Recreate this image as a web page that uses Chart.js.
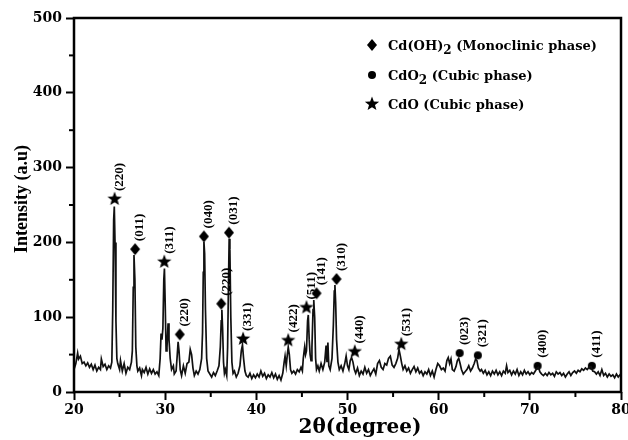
<!DOCTYPE html>
<html>
<head>
<meta charset="utf-8">
<script src="https://cdn.jsdelivr.net/npm/chart.js@4/dist/chart.umd.min.js"></script>
<style>
  body { margin: 0; background: #fff; }
</style>
</head>
<body>
<canvas id="xrdChart" width="628" height="440"></canvas>
<script>

// XRD scan: [2theta, intensity]
const scan = [
  [20.0,30],[20.2,38],[20.4,52],[20.5,44],[20.7,48],[20.9,38],[21.1,40],[21.3,35],[21.5,39],[21.7,33],
  [21.9,37],[22.1,30],[22.3,36],[22.5,28],[22.7,33],[22.9,30],[23.0,44],[23.2,34],[23.4,37],[23.6,30],
  [23.8,35],[24.0,32],[24.15,40],[24.25,110],[24.35,230],[24.42,248],[24.5,200],[24.6,95],[24.7,45],[24.8,38],
  [25.0,30],[25.1,42],[25.3,28],[25.5,38],[25.7,25],[25.9,33],[26.1,30],[26.3,40],[26.4,55],[26.5,140],
  [26.58,183],[26.68,150],[26.78,60],[26.9,35],[27.0,28],[27.2,32],[27.4,22],[27.5,30],[27.7,26],[27.9,33],
  [28.1,24],[28.3,31],[28.5,25],[28.7,30],[28.9,24],[29.1,27],[29.3,22],[29.45,45],[29.55,78],[29.65,70],
  [29.75,85],[29.85,150],[29.92,165],[30.0,120],[30.1,55],[30.2,60],[30.32,92],[30.42,70],[30.55,45],[30.7,30],
  [30.9,35],[31.0,24],[31.2,28],[31.3,45],[31.42,67],[31.52,55],[31.65,30],[31.8,22],[32.0,35],[32.2,25],
  [32.4,38],[32.6,40],[32.75,57],[32.9,50],[33.05,32],[33.2,22],[33.4,28],[33.6,24],[33.8,30],[34.0,45],
  [34.1,80],[34.18,160],[34.25,201],[34.33,185],[34.42,110],[34.55,45],[34.7,28],[34.9,24],[35.1,20],[35.3,26],
  [35.5,22],[35.7,28],[35.9,35],[36.05,60],[36.15,95],[36.22,110],[36.3,85],[36.4,40],[36.5,25],[36.6,30],
  [36.75,22],[36.85,60],[36.95,150],[37.02,205],[37.1,190],[37.2,100],[37.32,40],[37.45,25],[37.6,28],[37.8,20],
  [38.0,25],[38.2,35],[38.35,55],[38.48,63],[38.6,45],[38.75,28],[38.9,22],[39.1,20],[39.3,25],[39.5,18],
  [39.7,23],[39.9,19],[40.1,24],[40.3,20],[40.5,28],[40.7,21],[40.9,25],[41.1,18],[41.3,23],[41.5,20],
  [41.7,26],[41.9,19],[42.1,24],[42.3,17],[42.5,22],[42.7,16],[42.9,25],[43.05,40],[43.15,48],[43.28,35],
  [43.4,50],[43.5,60],[43.62,50],[43.75,30],[43.9,25],[44.1,28],[44.3,24],[44.5,30],[44.7,27],[44.9,33],
  [45.05,28],[45.15,45],[45.3,60],[45.4,50],[45.5,55],[45.62,95],[45.7,103],[45.8,70],[45.9,50],[46.0,42],
  [46.1,60],[46.22,110],[46.3,123],[46.4,100],[46.5,45],[46.6,30],[46.75,35],[46.9,28],[47.1,38],[47.3,30],
  [47.5,40],[47.65,62],[47.75,40],[47.85,66],[47.95,35],[48.1,30],[48.3,45],[48.45,90],[48.55,135],[48.62,143],
  [48.7,120],[48.8,70],[48.95,40],[49.1,30],[49.3,35],[49.5,28],[49.7,38],[49.85,48],[50.0,35],[50.15,30],
  [50.3,42],[50.45,46],[50.6,40],[50.75,30],[50.9,25],[51.1,32],[51.3,22],[51.5,28],[51.7,24],[51.9,33],
  [52.1,25],[52.3,30],[52.5,22],[52.7,27],[52.9,31],[53.1,24],[53.3,38],[53.5,42],[53.7,33],[53.9,30],
  [54.1,38],[54.3,36],[54.5,45],[54.7,48],[54.9,36],[55.1,33],[55.3,38],[55.5,45],[55.65,57],[55.8,48],
  [55.95,38],[56.1,30],[56.3,35],[56.5,28],[56.7,32],[56.9,25],[57.1,30],[57.3,34],[57.5,27],[57.7,32],
  [57.9,25],[58.1,28],[58.3,22],[58.5,27],[58.7,24],[58.9,30],[59.1,22],[59.3,28],[59.5,20],[59.7,30],
  [59.9,38],[60.1,35],[60.3,30],[60.5,32],[60.7,28],[60.9,42],[61.05,46],[61.2,38],[61.35,44],[61.5,30],
  [61.7,28],[61.9,34],[62.05,42],[62.2,45],[62.35,38],[62.5,30],[62.7,24],[62.9,27],[63.1,30],[63.3,35],
  [63.5,28],[63.7,32],[63.9,38],[64.05,44],[64.2,42],[64.35,32],[64.55,28],[64.7,30],[64.9,25],[65.1,29],
  [65.3,23],[65.5,27],[65.7,22],[65.9,28],[66.1,24],[66.3,29],[66.5,23],[66.7,27],[66.9,22],[67.1,28],
  [67.3,25],[67.45,35],[67.6,26],[67.8,29],[68.0,23],[68.2,28],[68.4,24],[68.6,30],[68.8,22],[69.0,27],
  [69.2,23],[69.4,29],[69.6,24],[69.8,27],[70.0,23],[70.2,26],[70.4,24],[70.6,28],[70.8,32],[70.95,33],
  [71.1,27],[71.3,24],[71.5,22],[71.7,25],[71.9,22],[72.1,26],[72.3,23],[72.5,25],[72.7,21],[72.9,27],
  [73.1,24],[73.3,26],[73.5,22],[73.7,25],[73.9,20],[74.1,24],[74.3,27],[74.5,22],[74.7,26],[74.9,28],
  [75.1,25],[75.3,29],[75.5,27],[75.7,31],[75.9,29],[76.1,32],[76.3,30],[76.5,33],[76.7,34],[76.9,28],
  [77.1,27],[77.3,24],[77.5,27],[77.7,22],[77.9,30],[78.1,22],[78.3,25],[78.5,20],[78.7,24],[78.9,21],
  [79.1,23],[79.3,19],[79.5,24],[79.7,20],[79.9,23],[80.0,21]
];

// indexed peaks: marker position, hkl label, phase
const peakX = [24.45, 26.7, 29.9, 31.6, 34.25, 36.15, 37.0, 38.55, 43.5, 45.5, 46.6, 48.8, 50.8, 55.9, 62.3, 64.3, 70.85, 76.8];
const peakY = [258, 191, 174, 77, 208, 118, 213, 71, 69, 113, 132, 151, 54, 64, 52, 49, 35, 35];
const peakHkl = ['(220)', '(011)', '(311)', '(220)', '(040)', '(220)', '(031)', '(331)', '(422)', '(511)', '(141)', '(310)', '(440)', '(531)', '(023)', '(321)', '(400)', '(411)'];
const peakPhase = ['CdO', 'CdOH2', 'CdO', 'CdOH2', 'CdOH2', 'CdOH2', 'CdOH2', 'CdO', 'CdO', 'CdO', 'CdOH2', 'CdOH2', 'CdO', 'CdO', 'CdO2', 'CdO2', 'CdO2', 'CdO2'];

const phases = ['CdOH2', 'CdO2', 'CdO'];
const phaseText = [['Cd(OH)', '2', ' (Monoclinic phase)'], ['CdO', '2', ' (Cubic phase)'], ['CdO', '', ' (Cubic phase)']];

const yMinor = [50, 150, 250, 350, 450];
const xMinor = [25, 35, 45, 55, 65, 75];


function drawStar(ctx, cx, cy, r) {
  ctx.beginPath();
  for (let i = 0; i < 10; i++) {
    const rr = i % 2 === 0 ? r : r * 0.42;
    const ang = -Math.PI / 2 + i * Math.PI / 5;
    ctx.lineTo(cx + rr * Math.cos(ang), cy + rr * Math.sin(ang));
  }
  ctx.closePath();
  ctx.fill();
}

function drawDiamond(ctx, cx, cy, w, h) {
  ctx.beginPath();
  ctx.moveTo(cx, cy - h);
  ctx.lineTo(cx + w, cy);
  ctx.lineTo(cx, cy + h);
  ctx.lineTo(cx - w, cy);
  ctx.closePath();
  ctx.fill();
}

function drawDot(ctx, cx, cy, r) {
  ctx.beginPath();
  ctx.arc(cx, cy, r, 0, Math.PI * 2);
  ctx.fill();
}

function drawMarker(ctx, phase, cx, cy) {
  ctx.fillStyle = '#000';
  if (phase === 'CdO') drawStar(ctx, cx, cy, 7.5);
  else if (phase === 'CdOH2') drawDiamond(ctx, cx, cy, 5, 6);
  else drawDot(ctx, cx, cy, 4);
}

// marker images for the scatter datasets
function markerImage(phase) {
  const c = document.createElement('canvas');
  c.width = 18; c.height = 18;
  drawMarker(c.getContext('2d'), phase, 9, 9);
  return c;
}


const overlay = {
  id: 'overlay',
  afterDraw(chart) {
    const { ctx, chartArea: a, scales: { x, y } } = chart;
    ctx.save();
    ctx.strokeStyle = '#000';
    ctx.fillStyle = '#000';

    // minor ticks
    ctx.lineWidth = 2;
    yMinor.forEach(v => {
      const py = y.getPixelForValue(v);
      ctx.beginPath(); ctx.moveTo(a.left, py); ctx.lineTo(a.left - 5, py); ctx.stroke();
    });
    xMinor.forEach(v => {
      const px = x.getPixelForValue(v);
      ctx.beginPath(); ctx.moveTo(px, a.bottom); ctx.lineTo(px, a.bottom + 5); ctx.stroke();
    });

    // frame
    ctx.lineWidth = 2.5;
    ctx.strokeRect(a.left, a.top, a.right - a.left, a.bottom - a.top);

    // hkl labels
    ctx.font = 'bold 13px "Liberation Serif"';
    ctx.textAlign = 'left';
    ctx.textBaseline = 'middle';
    peakHkl.forEach((lab, i) => {
      const px = x.getPixelForValue(peakX[i]);
      const py = y.getPixelForValue(peakY[i]);
      ctx.save();
      ctx.translate(px + 5, py - 8);
      ctx.rotate(-Math.PI / 2);
      ctx.fillText(lab, 0, 0);
      ctx.restore();
    });

    // legend
    const legY = [45, 75, 104];
    phases.forEach((ph, i) => {
      drawMarker(ctx, ph, 372, legY[i]);
      const [base, sub, rest] = phaseText[i];
      let tx = 388;
      ctx.textBaseline = 'alphabetic';
      ctx.font = 'bold 13px "DejaVu Serif"';
      ctx.fillText(base, tx, legY[i] + 5);
      tx += ctx.measureText(base).width;
      if (sub) {
        ctx.font = 'bold 12px "DejaVu Serif"';
        ctx.fillText(sub, tx, legY[i] + 9);
        tx += ctx.measureText(sub).width;
      }
      ctx.font = 'bold 13px "DejaVu Serif"';
      ctx.fillText(rest, tx, legY[i] + 5);
    });

    // axis titles
    ctx.textAlign = 'center';
    ctx.textBaseline = 'middle';
    ctx.font = 'bold 20px "DejaVu Serif"';
    ctx.fillText('2θ(degree)', 360, 428);
    ctx.save();
    ctx.translate(22, 199);
    ctx.rotate(-Math.PI / 2);
    ctx.font = 'bold 18px "Liberation Serif"';
    ctx.fillText('Intensity (a.u)', 0, 0);
    ctx.restore();

    ctx.restore();
  }
};


function peakSet(phase) {
  const pts = [];
  peakX.forEach((v, i) => {
    if (peakPhase[i] === phase) pts.push({ x: v, y: peakY[i] });
  });
  return {
    type: 'scatter',
    data: pts,
    pointStyle: markerImage(phase),
    pointRadius: 6,
    showLine: false
  };
}

const tickFont = { family: 'DejaVu Serif', size: 14, weight: 'bold' };

new Chart(document.getElementById('xrdChart'), {
  type: 'line',
  data: {
    datasets: [
      {
        data: scan.map(p => ({ x: p[0], y: p[1] })),
        borderColor: '#111',
        borderWidth: 1.7,
        pointRadius: 0,
        tension: 0
      },
      peakSet('CdO'),
      peakSet('CdOH2'),
      peakSet('CdO2')
    ]
  },
  options: {
    responsive: false,
    animation: false,
    layout: { padding: { top: 18, right: 7, left: 0, bottom: 0 } },
    plugins: { legend: { display: false }, tooltip: { enabled: false } },
    scales: {
      x: {
        type: 'linear',
        min: 20,
        max: 80,
        ticks: { stepSize: 10, color: '#000', font: tickFont, padding: 2, maxRotation: 0 },
        grid: { drawOnChartArea: false, tickLength: 8, tickWidth: 2, color: '#000' },
        border: { display: false },
        afterFit: s => { s.height = 48; s.paddingLeft = 0; s.paddingRight = 0; }
      },
      y: {
        min: 0,
        max: 500,
        ticks: { stepSize: 100, color: '#000', font: tickFont, padding: 4 },
        grid: { drawOnChartArea: false, tickLength: 8, tickWidth: 2, color: '#000' },
        border: { display: false },
        afterFit: s => { s.width = 74; s.paddingTop = 0; s.paddingBottom = 0; }
      }
    }
  },
  plugins: [overlay]
});
</script>
</body>
</html>
